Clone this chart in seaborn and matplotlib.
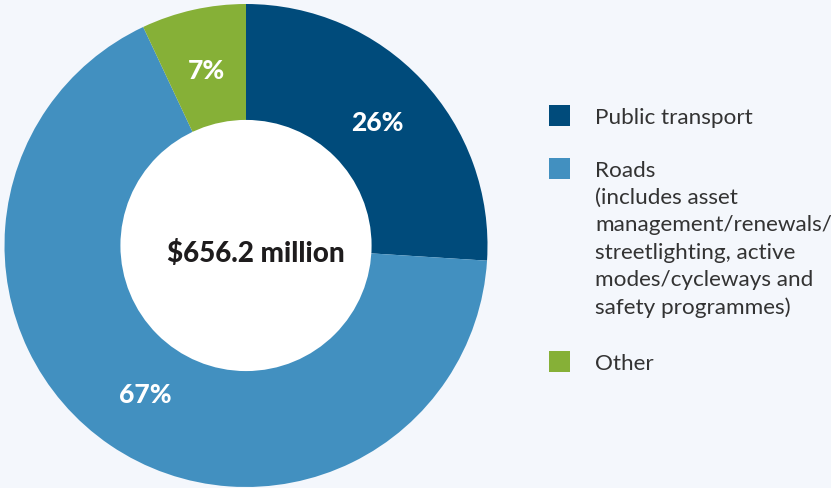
import matplotlib
matplotlib.use("Agg")
import matplotlib.pyplot as plt
import seaborn as sns
from matplotlib.patches import Circle, Rectangle

# Data
categories = ["Public transport", "Roads", "Other"]
legend_labels = [
    "Public transport",
    "Roads\n(includes asset\nmanagement/renewals/\nstreetlighting, active\nmodes/cycleways and\nsafety programmes)",
    "Other",
]
shares = [26, 67, 7]
total_label = "$656.2 million"
colors = ["#004b7b", "#4290c0", "#86b037"]

BG = "#f4f7fc"

sns.set_theme(style="white")
plt.rcParams["font.family"] = ["Lato", "DejaVu Sans"]

W, H = 831, 489
fig = plt.figure(figsize=(W / 100, H / 100), dpi=100)
fig.patch.set_facecolor(BG)

# donut centre (246, 246.5) px, radius 241.5 px
cx, cy, r = 246, 246.5, 241.5
ax = fig.add_axes([(cx - r) / W, (H - cy - r) / H, 2 * r / W, 2 * r / H])
ax.set_facecolor(BG)

wedges, _, autotexts = ax.pie(
    shares, colors=colors, startangle=90, counterclock=False,
    radius=1, autopct="%d%%", pctdistance=0.745,
    wedgeprops=dict(linewidth=0),
    textprops=dict(color="white", fontsize=19, fontweight=900),
)
ax.add_patch(Circle((0, 0), 0.52, facecolor="white", edgecolor="none", zorder=3))
ax.text(0.04, -0.03, total_label, ha="center", va="center",
        fontsize=20, fontweight=900, color="#1e1c1d", zorder=4)
ax.set_xlim(-1, 1)
ax.set_ylim(-1, 1)
ax.set_aspect("equal")
ax.axis("off")

# legend drawn by hand so the swatch sits on the first text line
sq = 21
swatch_y = [116.5, 169.5, 362.5]
for col, lab, y in zip(colors, legend_labels, swatch_y):
    fig.patches.append(Rectangle((549 / W, (H - y - sq / 2) / H), sq / W, sq / H,
                                 transform=fig.transFigure, facecolor=col,
                                 edgecolor="none"))
    fig.text(595 / W, (H - y + 8.5) / H, lab, ha="left", va="top",
             fontsize=16.2, color="#333333", linespacing=1.45, fontweight="normal")

fig.savefig("out.png", dpi=100, facecolor=BG)
